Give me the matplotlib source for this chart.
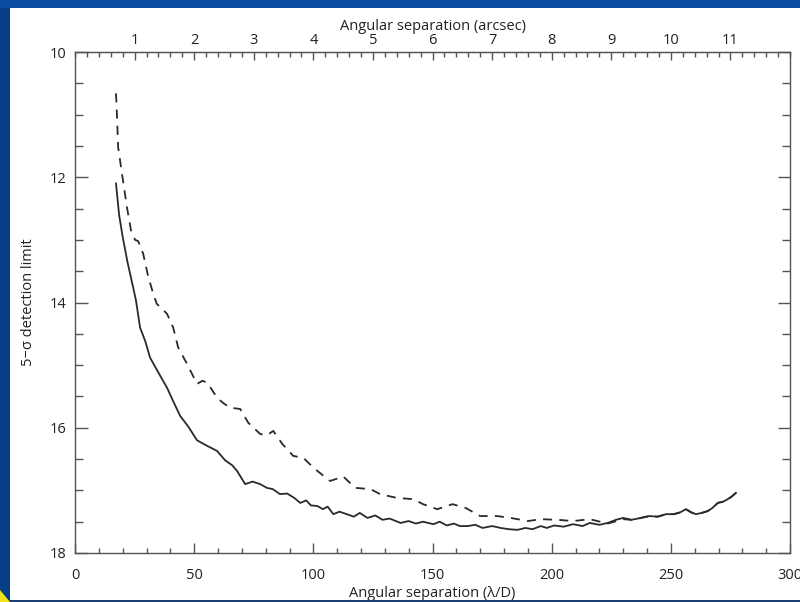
import matplotlib
matplotlib.use("Agg")
import matplotlib.pyplot as plt
from matplotlib.patches import Rectangle, Polygon
from matplotlib.ticker import MultipleLocator, FixedLocator

plt.rcParams['font.family'] = ['Open Sans', 'DejaVu Sans']

# Solid curve (lambda/D, detection limit)
solid_x = [17.2, 18.5, 20, 22, 24.4, 25.6, 27.3, 29.5, 31.5, 35, 38.6, 41.5, 44.1, 47.5, 51.2,
           55, 59.6, 63, 66, 68, 71.4, 74.5, 77.7, 80.5, 83, 86, 89, 92, 94.5, 97, 99, 101.7,
           104, 106, 108.4, 111, 114, 117, 119.5, 122.7, 126, 129, 132, 136.6, 140, 143,
           146, 150.4, 153, 156, 159, 161.5, 164.7, 168, 171, 175, 178.6, 182, 185.7, 189,
           192, 195.4, 198, 201, 205, 209, 213, 216, 220, 223.5, 227, 230, 233.5, 237.4,
           241, 244.5, 248, 251.3, 254, 256.3, 258.5, 260.5, 263, 265.5, 267.5, 269.7, 272,
           273.9, 275.5, 277.3]
solid_y = [12.1, 12.6, 12.95, 13.35, 13.76, 13.97, 14.4, 14.62, 14.88, 15.12, 15.36, 15.6, 15.81,
           15.98, 16.2, 16.28, 16.37, 16.52, 16.6, 16.69, 16.9, 16.86, 16.9, 16.96, 16.98, 17.06,
           17.05, 17.12, 17.2, 17.16, 17.24, 17.25, 17.3, 17.26, 17.38, 17.34, 17.38, 17.42,
           17.36, 17.44, 17.4, 17.47, 17.45, 17.52, 17.49, 17.53, 17.5, 17.54, 17.5, 17.56,
           17.53, 17.57, 17.57, 17.55, 17.6, 17.57, 17.6, 17.62, 17.63, 17.6, 17.62, 17.57,
           17.6, 17.56, 17.58, 17.54, 17.57, 17.52, 17.55, 17.52, 17.47, 17.44, 17.47, 17.44,
           17.41, 17.42, 17.38, 17.38, 17.35, 17.3, 17.35, 17.38, 17.36, 17.33, 17.28, 17.2,
           17.18, 17.14, 17.1, 17.04]

# Dashed curve
dashed_x = [17.2, 17.6, 18.1, 19.7, 21.8, 23.5, 25.2, 26.5, 28.6, 30.5, 32.8, 34.3, 36.5, 38.6,
            41.2, 43.3, 47, 51.2, 53.5, 55.5, 59.6, 62, 65, 69.3, 72.7, 77.7, 80.5, 83.2, 87,
            91.6, 95.8, 98.5, 101.7, 107, 112.6, 117.6, 124, 128, 135, 142, 146, 152, 158.4,
            163.9, 170, 177, 182.8, 190, 195.4, 202.5, 209, 216, 223.5, 230, 233.5, 237.4,
            241, 244.5, 248, 251.3, 254, 256.3, 258.5, 260.5, 263, 265.5, 267.5, 269.7, 272,
            273.9, 275.5, 277.3]
dashed_y = [10.66, 11.0, 11.52, 11.94, 12.48, 12.85, 13.0, 13.02, 13.22, 13.55, 13.86, 14.02,
            14.1, 14.18, 14.4, 14.72, 14.98, 15.3, 15.25, 15.28, 15.52, 15.6, 15.68, 15.7, 15.92,
            16.1, 16.12, 16.05, 16.26, 16.45, 16.48, 16.58, 16.69, 16.85, 16.78, 16.96, 16.98,
            17.06, 17.12, 17.14, 17.22, 17.3, 17.22, 17.28, 17.41, 17.41, 17.44, 17.49, 17.46,
            17.47, 17.49, 17.46, 17.53, 17.46, 17.47, 17.44, 17.41, 17.42, 17.38, 17.38, 17.35,
            17.3, 17.35, 17.38, 17.36, 17.33, 17.28, 17.2, 17.18, 17.14, 17.1, 17.04]

arcsec_ticks = [1, 2, 3, 4, 5, 6, 7, 8, 9, 10, 11]
lod_per_arcsec = 25.0

fig = plt.figure(figsize=(8.0, 6.02), dpi=100)
fig.patch.set_facecolor('#0b4ea1')
# white panel
fig.add_artist(Rectangle((10/800, 0), 790/800, 1 - 8/602, transform=fig.transFigure,
                         facecolor='white', edgecolor='none', zorder=0))
fig.add_artist(Rectangle((0, 0), 10/800, 1 - 8/602, transform=fig.transFigure,
                         facecolor='#073f86', edgecolor='none', zorder=0))
fig.add_artist(Polygon([(0, 0), (10/800, 0), (0, 12/602)], closed=True, transform=fig.transFigure,
                       facecolor='#f2e21c', edgecolor='none', zorder=1))
fig.add_artist(Rectangle((10/800, 0), 790/800, 2/602, transform=fig.transFigure,
                         facecolor='#1c3f73', edgecolor='none', zorder=1))

ax = fig.add_axes([75/800, 1 - 553/602, 715/800, 501/602])
ax.set_facecolor('white')
ax.plot(solid_x, solid_y, color='#2a2a2a', lw=1.3, solid_joinstyle='round')
ax.plot(dashed_x, dashed_y, color='#2a2a2a', lw=1.3, dashes=(5, 4))

ax.set_xlim(0, 300)
ax.set_ylim(18, 10)
ax.xaxis.set_major_locator(MultipleLocator(50))
ax.xaxis.set_minor_locator(MultipleLocator(10))
ax.yaxis.set_major_locator(MultipleLocator(2))
ax.yaxis.set_minor_locator(MultipleLocator(0.5))

tc = '#555555'
for s in ax.spines.values():
    s.set_color(tc)
    s.set_linewidth(1.0)

ax.tick_params(axis='x', which='major', direction='in', length=7.5, width=1, color=tc,
               labelsize=10.5, labelcolor='#222222', pad=11, top=False)
ax.tick_params(axis='x', which='minor', direction='in', length=3.5, width=1, color=tc, top=False)
ax.tick_params(axis='y', which='major', direction='in', length=9, width=1, color=tc,
               labelsize=10.5, labelcolor='#222222', pad=6, right=True)
ax.tick_params(axis='y', which='minor', direction='in', length=6, width=1, color=tc, right=True)

ax.set_xlabel('Angular separation (λ/D)', fontsize=10.5, color='#222222', labelpad=2)
ax.set_ylabel('5−σ detection limit', fontsize=10.5, color='#222222', labelpad=10)

sec = ax.secondary_xaxis('top', functions=(lambda v: v / lod_per_arcsec,
                                             lambda v: v * lod_per_arcsec))
sec.xaxis.set_major_locator(FixedLocator(arcsec_ticks))
sec.xaxis.set_minor_locator(MultipleLocator(0.2))
sec.tick_params(axis='x', which='major', direction='in', length=6, width=1, color=tc,
                labelsize=10.5, labelcolor='#222222', pad=3)
sec.tick_params(axis='x', which='minor', direction='in', length=3.5, width=1, color=tc)
sec.spines['top'].set_color(tc)
sec.set_xlabel('Angular separation (arcsec)', fontsize=10.5, color='#222222', labelpad=2)

fig.savefig('out.png', dpi=100, facecolor=fig.get_facecolor())
